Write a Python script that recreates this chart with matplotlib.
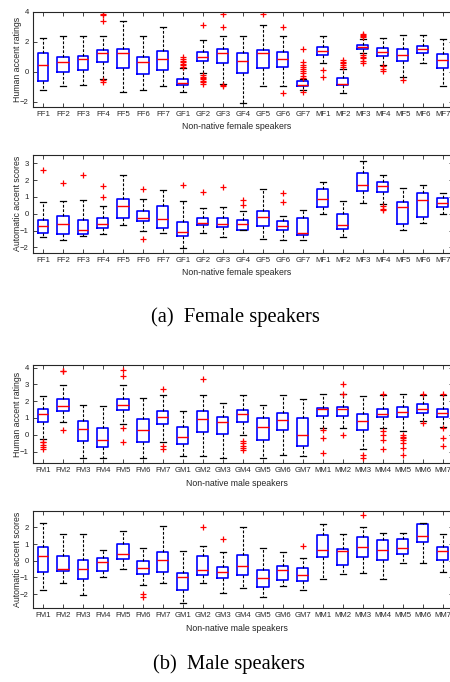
import matplotlib
matplotlib.use("Agg")
import matplotlib.pyplot as plt

plt.rcParams['font.family'] = ['Liberation Sans', 'DejaVu Sans']

female_labels = ["FF1", "FF2", "FF3", "FF4", "FF5", "FF6", "FF7",
                 "GF1", "GF2", "GF3", "GF4", "GF5", "GF6", "GF7",
                 "MF1", "MF2", "MF3", "MF4", "MF5", "MF6", "MF7"]
male_labels = ["FM1", "FM2", "FM3", "FM4", "FM5", "FM6", "FM7",
               "GM1", "GM2", "GM3", "GM4", "GM5", "GM6", "GM7",
               "MM1", "MM2", "MM3", "MM4", "MM5", "MM6", "MM7"]

# ---- Panel (a) top: human accent ratings, female ----
hf_q1 = [-0.6, 0.0, 0.09, 0.65, 0.29, -0.16, 0.13, -0.9, 0.72, 0.56, -0.11, 0.29, 0.34, -0.97,
         1.12, -0.85, 1.5, 1.08, 0.72, 1.24, 0.29]
hf_med = [0.43, 0.67, 0.85, 1.28, 1.28, 0.63, 0.88, -0.72, 0.97, 1.28, 0.72, 1.28, 0.88, -0.85,
          1.42, -0.79, 1.64, 1.35, 1.12, 1.53, 0.79]
hf_q3 = [1.28, 1.01, 1.08, 1.48, 1.55, 1.01, 1.42, -0.45, 1.3, 1.5, 1.28, 1.46, 1.3, -0.63,
         1.64, -0.38, 1.8, 1.57, 1.5, 1.73, 1.19]
hf_lo = [-1.19, -0.97, -0.88, -0.45, -1.37, -1.24, -0.94, -1.35, -0.1, -0.79, -2.09, -0.97, -0.97, -1.19,
         0.56, -1.42, 1.24, 0.45, -0.34, 0.61, -0.97]
hf_hi = [2.29, 2.4, 2.4, 2.4, 3.37, 2.4, 2.99, 0.25, 2.13, 2.4, 2.4, 3.1, 2.4, -0.45,
         2.4, 0.22, 2.18, 2.29, 2.47, 2.47, 2.18]
hf_fl = [[], [], [], [3.84, 3.8, 3.37, -0.55, -0.65], [], [], [],
         [0.34, 0.45, 0.52, 0.67, 0.75, 0.83, 0.97],
         [3.1, -0.22, -0.33, -0.4, -0.5, -0.6, -0.65, -0.82],
         [3.84, 3.03, -0.85, -0.92], [], [3.84], [3.03, -1.39],
         [1.5, 0.67, 0.49, 0.34, 0.18, 0.04, -0.11, -0.29, -0.38, -1.35],
         [0.11, -0.34], [0.34, 0.45, 0.56, 0.67, 0.79],
         [2.54, 2.47, 2.4, 2.3, 1.12, 1.0, 0.9, 0.75, 0.56],
         [0.38, 0.22, 0.07], [-0.52], [], []]

# ---- Panel (a) bottom: automatic accent scores, female ----
af_q1 = [-1.15, -1.19, -1.23, -0.83, -0.24, -0.46, -0.83, -1.35, -0.65, -0.79, -0.95, -0.71, -0.99, -1.25,
         0.4, -0.89, 1.37, 1.29, -0.6, -0.2, 0.4]
af_med = [-0.75, -0.6, -0.95, -0.63, 0.44, -0.24, -0.32, -1.11, -0.58, -0.6, -0.6, -0.2, -0.71, -1.15,
          0.89, -0.67, 1.73, 1.65, 0.4, 0.83, 0.65]
af_q3 = [-0.36, -0.16, -0.36, -0.24, 0.87, 0.16, 0.46, -0.48, -0.24, -0.28, -0.4, 0.16, -0.44, -0.26,
         1.49, -0.04, 2.44, 1.88, 0.71, 1.23, 0.93]
af_lo = [-1.39, -1.55, -1.35, -1.19, -0.69, -1.03, -1.15, -2.04, -1.15, -1.39, -0.99, -1.51, -1.55, -1.55,
         0.0, -1.39, 0.63, 0.6, -0.95, -0.56, 0.0]
af_hi = [0.69, 0.75, 0.83, 0.44, 2.32, 0.87, 1.43, 0.73, 0.34, 0.4, 0.14, 1.47, -0.16, 0.2,
         1.88, 0.73, 3.17, 2.32, 1.53, 1.73, 1.23]
af_fl = [[2.58], [1.85], [2.32], [1.65, 0.99], [], [1.49, -1.53], [], [1.73], [1.27], [1.59],
         [0.79, 0.5], [], [1.25, 0.69], [], [], [], [], [0.46, 0.3, 0.2], [], [], []]

# ---- Panel (b) top: human accent ratings, male ----
hm_q1 = [0.77, 1.42, -0.38, -0.75, 1.46, -0.45, 0.61, -0.55, 0.14, 0.04, 0.77, -0.32, 0.28, -0.69,
         1.1, 1.13, 0.28, 1.07, 1.07, 1.32, 1.07]
hm_med = [1.26, 1.72, 0.36, -0.32, 1.76, 0.28, 1.03, -0.16, 0.95, 0.75, 1.25, 0.47, 0.85, -0.02,
          1.52, 1.52, 0.83, 1.26, 1.34, 1.54, 1.32]
hm_q3 = [1.54, 2.15, 0.81, 0.42, 2.1, 0.95, 1.42, 0.47, 1.4, 1.03, 1.46, 0.97, 1.3, 0.97,
         1.6, 1.64, 1.26, 1.56, 1.66, 1.8, 1.52]
hm_lo = [-0.28, 0.75, -1.36, -1.36, 0.61, -1.36, -0.43, -1.25, -1.25, -1.36, -0.02, -1.36, -1.21, -1.25,
         0.41, 0.41, -0.87, 0.41, 0.22, 0.79, 0.47]
hm_hi = [2.33, 2.96, 1.78, 1.72, 2.94, 2.19, 2.39, 1.42, 2.39, 1.86, 2.39, 1.76, 2.39, 2.15,
         2.43, 2.4, 2.29, 2.38, 2.43, 2.38, 2.38]
hm_fl = [[-0.41, -0.45, -0.61, -0.71, -0.87], [3.79, 3.82, 0.28], [], [], [3.83, 3.47, 0.38, -0.41],
         [], [2.71, -0.65, -0.87], [], [3.32], [], [-0.38, -0.51, -0.65, -0.77, -0.91], [], [], [],
         [0.28, -0.21, -1.06], [3.0, 2.45, -0.02], [-1.2, -1.4],
         [2.45, 0.24, -0.02, -0.32, -0.87],
         [-0.02, -0.12, -0.22, -0.32, -0.47, -0.81, -1.2],
         [2.45, 0.69], [2.45, 0.38, -0.18, -0.67]]

# ---- Panel (b) bottom: automatic accent scores, male ----
am_q1 = [-0.7, -0.64, -1.08, -0.6, 0.1, -0.78, -0.7, -1.74, -0.84, -1.04, -0.84, -1.58, -1.14, -1.2,
         0.2, -0.24, 0.22, 0.06, 0.4, 1.1, 0.06]
am_med = [0.3, -0.48, -0.5, -0.08, 0.42, -0.42, 0.02, -1.0, -0.54, -0.68, -0.34, -1.04, -0.58, -0.84,
          0.66, 0.56, 0.82, 0.62, 0.74, 1.5, 0.56]
am_q3 = [0.8, 0.26, 0.06, 0.16, 1.02, -0.04, 0.52, -0.74, 0.26, -0.4, 0.32, -0.58, -0.34, -0.44,
         1.56, 0.7, 1.4, 1.22, 1.3, 2.2, 0.8]
am_lo = [-1.74, -1.34, -2.08, -0.98, -0.5, -1.48, -1.34, -2.54, -1.34, -1.94, -1.64, -2.2, -1.5, -1.78,
         -1.08, -0.8, -0.74, -1.1, -0.14, -0.14, -0.7]
am_hi = [2.26, 1.62, 1.62, 0.62, 1.76, 0.76, 2.06, 0.56, 0.86, 0.5, 2.0, 0.76, 0.5, 0.16,
         2.22, 1.6, 2.02, 1.66, 1.66, 2.26, 1.6]
am_fl = [[], [], [], [], [], [-1.98, -2.18], [], [], [2.0], [1.32], [], [], [], [0.86],
         [], [], [2.76], [], [], [], []]

panels = [
    (female_labels, hf_q1, hf_med, hf_q3, hf_lo, hf_hi, hf_fl, "Human accent ratings",
     "Non-native female speakers", (-2.35, 4.0), [-2, 0, 2, 4]),
    (female_labels, af_q1, af_med, af_q3, af_lo, af_hi, af_fl, "Automatic accent scores",
     "Non-native female speakers", (-2.32, 3.5), [-2, -1, 0, 1, 2, 3]),
    (male_labels, hm_q1, hm_med, hm_q3, hm_lo, hm_hi, hm_fl, "Human accent ratings",
     "Non-native male speakers", (-1.7, 4.15), [-1, 0, 1, 2, 3, 4]),
    (male_labels, am_q1, am_med, am_q3, am_lo, am_hi, am_fl, "Automatic accent scores",
     "Non-native male speakers", (-2.85, 3.0), [-2, -1, 0, 1, 2]),
]

# axes rectangles in pixels (top, bottom)
rects_px = [(12, 107), (155, 252.7), (365, 463.3), (510.7, 608.3)]
W, H = 450, 682
fig = plt.figure(figsize=(W / 100, H / 100), dpi=100)

axc = (0.15, 0.15, 0.15)
for (labels, q1, med, q3, lo, hi, fl, ylab, xlab, ylim, yt), (top, bot) in zip(panels, rects_px):
    ax = fig.add_axes([33 / W, 1 - bot / H, 420 / W, (bot - top) / H])
    stats = []
    for i in range(len(labels)):
        stats.append(dict(med=med[i], q1=q1[i], q3=q3[i], whislo=lo[i], whishi=hi[i],
                          fliers=fl[i], label=labels[i]))
    pos = list(range(1, len(labels) + 1))
    ax.bxp(stats, positions=pos, widths=0.55, capwidths=0.3, showfliers=True,
           boxprops=dict(color='blue', linewidth=1.2),
           medianprops=dict(color='red', linewidth=1.0),
           whiskerprops=dict(color='black', linestyle=(0, (2.5, 1.5)), linewidth=0.8),
           capprops=dict(color='black', linewidth=0.9),
           flierprops=dict(marker='+', markeredgecolor='red', markersize=4.2, markeredgewidth=0.9,
                           linestyle='none'))
    ax.set_xlim(0.5, len(labels) + 0.5)
    ax.set_ylim(*ylim)
    ax.set_yticks(yt)
    ax.set_xticks(pos)
    ax.set_xticklabels(labels)
    for s in ['left', 'bottom', 'top', 'right']:
        ax.spines[s].set_color(axc)
        ax.spines[s].set_linewidth(0.8)
    ax.tick_params(direction='in', length=3, width=0.6, colors=axc, labelsize=5.6,
                   top=True, right=True, pad=3)
    ax.set_ylabel(ylab, fontsize=6.3, color=axc)
    ax.yaxis.set_label_coords(-0.038, 0.5)
    ax.yaxis.label.set_va('center')
    ax.set_xlabel(xlab, fontsize=6.3, color=axc)
    ax.xaxis.set_label_coords(0.486, -0.16)

fig.text(235 / W, 1 - 317 / H, "(a)  Female speakers", ha='center', va='center',
         fontsize=14.8, family=['Liberation Serif', 'DejaVu Serif'])
fig.text(229 / W, 1 - 664 / H, "(b)  Male speakers", ha='center', va='center',
         fontsize=14.8, family=['Liberation Serif', 'DejaVu Serif'])

fig.savefig("out.png", dpi=100)
